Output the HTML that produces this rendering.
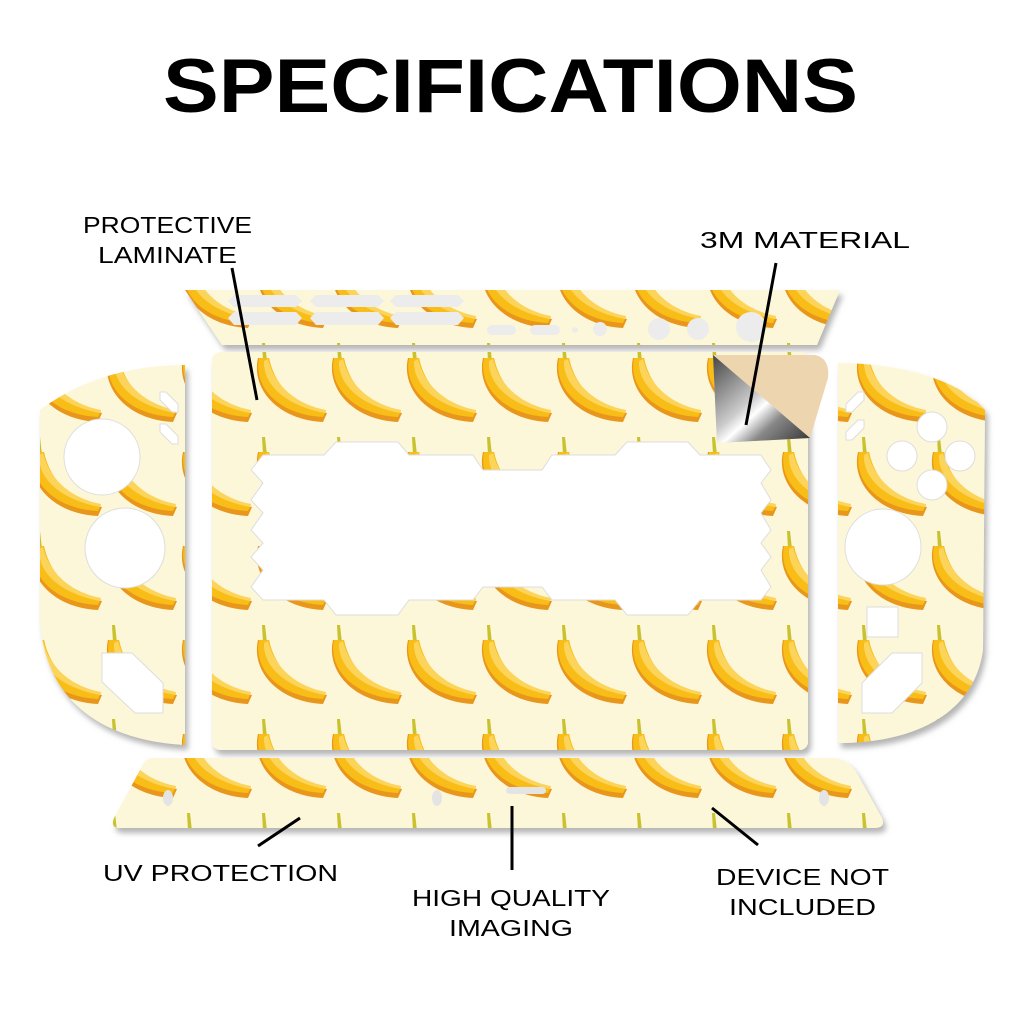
<!DOCTYPE html>
<html><head><meta charset="utf-8"><style>html,body{margin:0;padding:0;background:#fff}svg{display:block}</style></head>
<body>
<svg width="1024" height="1024" viewBox="0 0 1024 1024" xmlns="http://www.w3.org/2000/svg">
<defs>
<pattern id="ban" patternUnits="userSpaceOnUse" x="480" y="341" width="75" height="94">
<rect width="75" height="94" fill="#fdf7d9"/>
<g transform="translate(8,2)">
<path d="M-1,0 L2,0 L4,18 L0,18 Z" fill="#c9c22e"/>
<path d="M-5,15 C-12,46 15,77 60,79 L64,70 C36,66 12,48 6,15 Z" fill="#e8961a"/>
<path d="M-4,15 C-10,44 16,72 60,74 L63,68 C36,64 13,47 6,15 Z" fill="#f8bd17"/>
<path d="M1,18 C0,40 20,62 62,70 L63,67 C36,62 12,45 5,16 Z" fill="#fcd45a"/>
</g>
<g transform="translate(83,2)">
<path d="M-5,15 C-12,46 15,77 60,79 L64,70 C36,66 12,48 6,15 Z" fill="#e8961a"/>
<path d="M-4,15 C-10,44 16,72 60,74 L63,68 C36,64 13,47 6,15 Z" fill="#f8bd17"/>
<path d="M1,18 C0,40 20,62 62,70 L63,67 C36,62 12,45 5,16 Z" fill="#fcd45a"/>
</g>
<g transform="translate(-67,2)">
<path d="M-5,15 C-12,46 15,77 60,79 L64,70 C36,66 12,48 6,15 Z" fill="#e8961a"/>
<path d="M-4,15 C-10,44 16,72 60,74 L63,68 C36,64 13,47 6,15 Z" fill="#f8bd17"/>
<path d="M1,18 C0,40 20,62 62,70 L63,67 C36,62 12,45 5,16 Z" fill="#fcd45a"/>
</g>
</pattern>
<filter id="sh" x="-10%" y="-10%" width="120%" height="130%">
<feDropShadow dx="3" dy="5" stdDeviation="3" flood-color="#777" flood-opacity="0.55"/>
</filter>
<linearGradient id="silver" x1="0" y1="0" x2="1" y2="1">
<stop offset="0" stop-color="#444"/><stop offset="0.45" stop-color="#ccc"/><stop offset="0.55" stop-color="#fff"/><stop offset="0.7" stop-color="#888"/><stop offset="1" stop-color="#333"/>
</linearGradient>
</defs>

<g filter="url(#sh)">
<!-- top strip -->
<path d="M185,290 L840,290 L817,345 L222,345 Z" fill="url(#ban)"/>
<!-- main panel -->
<rect x="212" y="352" width="596" height="398" rx="8" fill="url(#ban)"/>
<!-- left joycon -->
<path d="M185,365 L185,745 C100,740 45,700 40,620 L40,410 C80,380 130,365 185,365 Z" fill="url(#ban)"/>
<!-- right joycon -->
<path d="M838,363 C900,363 960,380 985,410 L983,650 C975,710 920,743 838,743 Z" fill="url(#ban)"/>
<!-- bottom strip -->
<path d="M152,758 L833,758 Q848,758 858,775 L882,818 Q886,828 874,828 L120,828 Q110,828 114,818 L140,770 Q145,758 152,758 Z" fill="url(#ban)"/>
</g>

<!-- screen cutout -->
<polygon fill="#fff" stroke="#ddd" stroke-width="1" points="251,470 263,455 324,455 336,442 398,442 409,455 473,455 483,470 542,470 552,455 615,455 627,442 688,442 700,455 761,455 771,470 761,483 771,500 761,513 771,530 761,543 771,557 761,570 771,587 761,600 700,600 688,615 627,615 615,600 552,600 542,587 483,587 473,600 409,600 398,615 336,615 324,600 263,600 251,587 263,570 251,557 263,543 251,530 263,513 251,500 263,483"/>

<!-- top strip holes -->
<g fill="#ececec">
<polygon points="228,301 234,295 296,295 302,301 296,307 234,307"/>
<polygon points="310,301 316,295 378,295 384,301 378,307 316,307"/>
<polygon points="390,301 396,295 458,295 464,301 458,307 396,307"/>
<polygon points="228,318 234,312 296,312 302,318 296,325 234,325"/>
<polygon points="310,318 316,312 378,312 384,318 378,325 316,325"/>
<polygon points="390,318 396,312 458,312 464,318 458,325 396,325"/>
<rect x="487" y="325" width="29" height="10" rx="5"/>
<rect x="530" y="325" width="30" height="10" rx="5"/>
<circle cx="575" cy="330" r="3"/>
<circle cx="600" cy="329" r="7"/>
<circle cx="659" cy="329" r="11"/>
<circle cx="698" cy="329" r="11"/>
<circle cx="751" cy="327" r="15"/>
</g>

<!-- left joycon holes -->
<g fill="#fff" stroke="#ddd">
<circle cx="102" cy="457" r="38"/>
<circle cx="125" cy="548" r="40"/>
<polygon points="102,653 132,653 163,683 163,713 135,713 102,682"/>
<polygon points="160,392 166,392 178,404 178,412 172,412 160,400"/>
<polygon points="160,424 166,424 178,436 178,444 172,444 160,432"/>
</g>
<!-- right joycon holes -->
<g fill="#fff" stroke="#ddd">
<circle cx="932" cy="427" r="15"/>
<circle cx="902" cy="456" r="15"/>
<circle cx="960" cy="456" r="15"/>
<circle cx="932" cy="485" r="15"/>
<circle cx="883" cy="547" r="38"/>
<rect x="867" y="607" width="31" height="30"/>
<polygon points="862,683 892,653 922,653 922,683 892,713 862,713"/>
<polygon points="846,404 858,392 864,392 864,400 852,412 846,412"/>
<polygon points="846,432 858,420 864,420 864,428 852,440 846,440"/>
</g>
<!-- bottom strip holes -->
<g fill="#e4e4e4">
<ellipse cx="168" cy="798" rx="5" ry="8"/>
<ellipse cx="437" cy="798" rx="5" ry="8"/>
<ellipse cx="824" cy="798" rx="5" ry="8"/>
<rect x="506" y="787" width="40" height="7" rx="3.5"/>
</g>

<!-- sticker peel -->
<path d="M713,355 L815,355 Q830,358 828,378 L810,438 L717,443 Z" fill="#edd5b0"/>
<path d="M713,355 L810,438 L717,443 Z" fill="url(#silver)"/>

<!-- leader lines -->
<g stroke="#000" stroke-width="3">
<line x1="232" y1="268" x2="257" y2="400"/>
<line x1="776" y1="263" x2="746" y2="425"/>
<line x1="258" y1="846" x2="300" y2="818"/>
<line x1="512" y1="870" x2="512" y2="806"/>
<line x1="758" y1="845" x2="712" y2="808"/>
</g>

<!-- text -->
<g font-family="Liberation Sans, sans-serif" fill="#000">
<text x="163" y="112" font-size="76" font-weight="bold" textLength="695" lengthAdjust="spacingAndGlyphs">SPECIFICATIONS</text>
<g font-size="23">
<text x="83" y="233" textLength="169" lengthAdjust="spacingAndGlyphs">PROTECTIVE</text>
<text x="98" y="263" textLength="139" lengthAdjust="spacingAndGlyphs">LAMINATE</text>
<text x="700" y="248" textLength="210" lengthAdjust="spacingAndGlyphs">3M MATERIAL</text>
<text x="103" y="881" textLength="235" lengthAdjust="spacingAndGlyphs">UV PROTECTION</text>
<text x="412" y="906" textLength="198" lengthAdjust="spacingAndGlyphs">HIGH QUALITY</text>
<text x="449" y="936" textLength="124" lengthAdjust="spacingAndGlyphs">IMAGING</text>
<text x="716" y="885" textLength="173" lengthAdjust="spacingAndGlyphs">DEVICE NOT</text>
<text x="729" y="915" textLength="147" lengthAdjust="spacingAndGlyphs">INCLUDED</text>
</g>
</g>
</svg>
</body></html>
